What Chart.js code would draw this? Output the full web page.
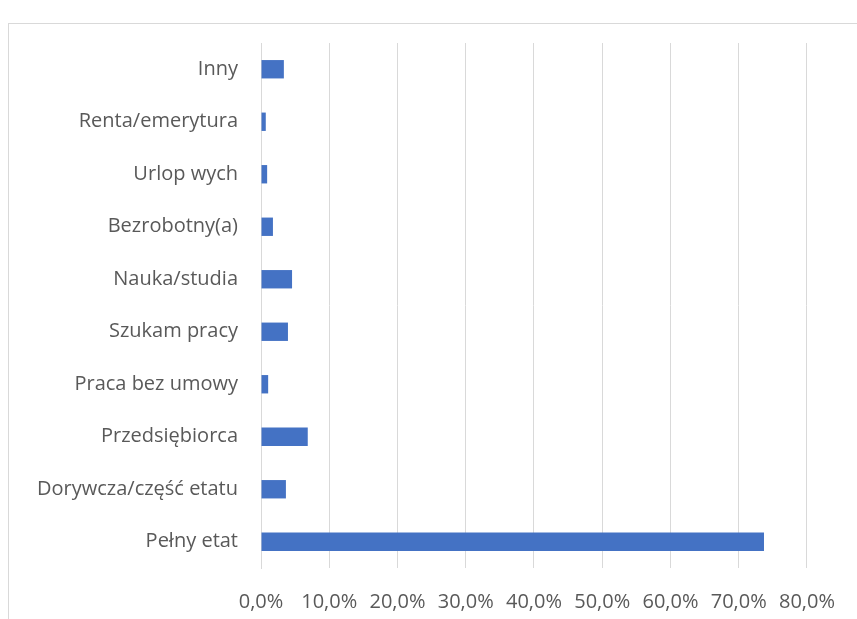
<!DOCTYPE html>
<html>
<head>
<meta charset="utf-8">
<script src="https://cdn.jsdelivr.net/npm/chart.js@4"></script>
<style>
html,body{margin:0;padding:0;background:#fff;overflow:hidden;}
#wrap{position:absolute;left:0;top:0;width:857px;height:619px;}
#ramka{position:absolute;left:8px;top:23px;width:900px;height:700px;border-left:1px solid #d9d9d9;border-top:1px solid #d9d9d9;}
canvas{position:absolute;left:0;top:0;}
</style>
</head>
<body>
<div id="ramka"></div>
<div id="wrap"><canvas id="wykres" width="857" height="619"></canvas></div>
<script>

// kategorie od góry do dołu
const kategorie = [
"Inny",
"Renta/emerytura",
"Urlop wych",
"Bezrobotny(a)",
"Nauka/studia",
"Szukam pracy",
"Praca bez umowy",
"Przedsiębiorca",
"Dorywcza/część etatu",
"Pełny etat"
];

// odsetek odpowiedzi (%)
const wartosci = [3.35, 0.7, 0.9, 1.75, 4.55, 3.95, 1.05, 6.85, 3.65, 73.7];

const osX = [0, 80, 10]; // min, max, krok

const szary = "#595959";

new Chart(
document.getElementById("wykres"),
{
type:"bar",
data:{
labels:kategorie,
datasets:[{
label:"Odsetek",
data:wartosci,
backgroundColor:"#4472C4",
borderWidth:0,
barPercentage:0.35,
categoryPercentage:1
}]
},
options:{
indexAxis:"y",
responsive:false,
animation:false,
devicePixelRatio:1,
layout:{padding:{top:43,right:47,left:0,bottom:0}},
plugins:{legend:{display:false},tooltip:{enabled:false}},
scales:{
x:{
min:osX[0],
max:osX[1],
afterFit:(s)=>{s.height=51;},
ticks:{
stepSize:osX[2],
color:szary,
font:{family:"Open Sans",size:20},
padding:22,
maxRotation:0,
callback:(v)=>v.toFixed(1).replace(".",",")+"%"
},
grid:{color:"#d9d9d9",lineWidth:1,drawTicks:false},
border:{display:false}
},
y:{
afterFit:(s)=>{s.width=261;},
ticks:{
color:szary,
font:{family:"Open Sans",size:20},
padding:23
},
grid:{display:false,drawTicks:false},
border:{display:true,color:"#d9d9d9",width:1}
}
}
}
}
);
</script>
</body>
</html>
